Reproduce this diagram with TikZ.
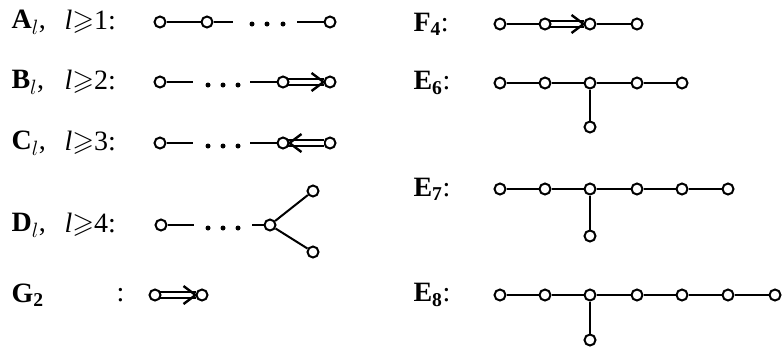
\documentclass[tikz,border=0pt]{standalone}
\usepackage{amsmath,amssymb}
\usepackage{fontspec}
\setmainfont{Liberation Serif}
\usetikzlibrary{arrows.meta}

\tikzset{
  vtx/.style={draw, circle, line width=2pt, inner sep=0pt, minimum size=11pt, fill=white},
  dotmark/.style={circle, fill, inner sep=0pt, minimum size=5pt},
  bond/.style={line width=2pt},
  dbond/.style={double, double distance=4.4pt, line width=1.8pt},
  chev/.style={line width=2.4pt},
  lbl/.style={anchor=west, font=\fontsize{28}{32}\selectfont}
}

\begin{document}
\begin{tikzpicture}[x=1pt, y=-1pt]
	\useasboundingbox (0,0) rectangle (783,346);
	% labels, left column
	\node[lbl] (la) at (8,22) {\textbf{A}\textit{$_l$},};
	\node[lbl] (lac) at (61,22) {\textit{l}${\geqslant}$1:};
	\node[lbl] (lb) at (8,82) {\textbf{B}\textit{$_l$},};
	\node[lbl] (lbc) at (61,82) {\textit{l}${\geqslant}$2:};
	\node[lbl] (lc) at (8,143) {\textbf{C}\textit{$_l$},};
	\node[lbl] (lcc) at (61,143) {\textit{l}${\geqslant}$3:};
	\node[lbl] (ld) at (8,225) {\textbf{D}\textit{$_l$},};
	\node[lbl] (ldc) at (61,225) {\textit{l}${\geqslant}$4:};
	\node[lbl] (lg) at (8,295) {\textbf{G}$_{\mathbf{2}}$};
	\node[lbl] (lgc) at (113,295) {:};
	% labels, right column
	\node[lbl] (lf) at (410,24) {\textbf{F}$_{\mathbf{4}}$:};
	\node[lbl] (le6) at (410,83) {\textbf{E}$_{\mathbf{6}}$:};
	\node[lbl] (le7) at (410,189) {\textbf{E}$_{\mathbf{7}}$:};
	\node[lbl] (le8) at (410,295) {\textbf{E}$_{\mathbf{8}}$:};

	% A_l
	\node[vtx] (a1) at (160,22) {};
	\node[vtx] (a2) at (207,22) {};
	\node[vtx] (a3) at (330,22) {};
	\coordinate (ae1) at (233,22);
	\coordinate (ae2) at (297,22);
	\foreach \i/\x in {1/252,2/267,3/283} \node[dotmark] (ad\i) at (\x,24) {};
	\draw[bond] (a1) -- (a2);
	\draw[bond] (a2) -- (ae1);
	\draw[bond] (ae2) -- (a3);

	% B_l
	\node[vtx] (b1) at (160,82) {};
	\node[vtx] (b3) at (330,82) {};
	\coordinate (be1) at (193,82);
	\coordinate (be2) at (250,82);
	\foreach \i/\x in {1/208,2/223,3/238} \node[dotmark] (bd\i) at (\x,85) {};
	\draw[bond] (b1) -- (be1);
	\draw[dbond] (283,82) -- (b3);
	\draw[chev] ([shift={(-12,-9)}]b3.west) -- (b3.west) -- ([shift={(-12,9)}]b3.west);
	\node[vtx] (b2) at (283,82) {};
	\draw[bond] (be2) -- (b2);

	% C_l
	\node[vtx] (c1) at (160,143) {};
	\node[vtx] (c3) at (330,143) {};
	\coordinate (ce1) at (193,143);
	\coordinate (ce2) at (250,143);
	\foreach \i/\x in {1/208,2/223,3/238} \node[dotmark] (cd\i) at (\x,146) {};
	\draw[bond] (c1) -- (ce1);
	\draw[dbond] (c3) -- (283,143);
	\node[vtx] (c2) at (283,143) {};
	\draw[chev] ([shift={(12,-9)}]c2.east) -- (c2.east) -- ([shift={(12,9)}]c2.east);
	\draw[bond] (ce2) -- (c2);

	% D_l
	\node[vtx] (d1) at (161,225) {};
	\node[vtx] (d2) at (270,225) {};
	\node[vtx] (d3) at (313,191) {};
	\node[vtx] (d4) at (313,252) {};
	\coordinate (de1) at (194,225);
	\coordinate (de2) at (252,225);
	\foreach \i/\x in {1/208,2/223,3/238} \node[dotmark] (dd\i) at (\x,228) {};
	\draw[bond] (d1) -- (de1);
	\draw[bond] (de2) -- (d2);
	\draw[bond] (d2) -- (d3);
	\draw[bond] (d2) -- (d4);

	% G_2
	\node[vtx] (g2) at (202,295) {};
	\draw[dbond] (155,295) -- (g2);
	\draw[chev] ([shift={(-12,-9)}]g2.west) -- (g2.west) -- ([shift={(-12,9)}]g2.west);
	\node[vtx] (g1) at (155,295) {};

	% F_4
	\foreach \i/\x in {1/500,3/590,4/637} \node[vtx] (f\i) at (\x,24) {};
	\draw[dbond] (545,24) -- (f3);
	\draw[chev] ([shift={(-12,-9)}]f3.west) -- (f3.west) -- ([shift={(-12,9)}]f3.west);
	\node[vtx] (f2) at (545,24) {};
	\draw[bond] (f1) -- (f2);
	\draw[bond] (f3) -- (f4);

	% E_6
	\foreach \i/\x in {1/500,2/545,3/590,4/637,5/682} \node[vtx] (e6\i) at (\x,83) {};
	\node[vtx] (e6b) at (590,127) {};
	\draw[bond] (e61) -- (e62) -- (e63) -- (e64) -- (e65);
	\draw[bond] (e63) -- (e6b);

	% E_7
	\foreach \i/\x in {1/500,2/545,3/590,4/637,5/682,6/728} \node[vtx] (e7\i) at (\x,189) {};
	\node[vtx] (e7b) at (590,236) {};
	\draw[bond] (e71) -- (e72) -- (e73) -- (e74) -- (e75) -- (e76);
	\draw[bond] (e73) -- (e7b);

	% E_8
	\foreach \i/\x in {1/500,2/545,3/590,4/637,5/682,6/728,7/775} \node[vtx] (e8\i) at (\x,295) {};
	\node[vtx] (e8b) at (590,340) {};
	\draw[bond] (e81) -- (e82) -- (e83) -- (e84) -- (e85) -- (e86) -- (e87);
	\draw[bond] (e83) -- (e8b);
\end{tikzpicture}
\end{document}
